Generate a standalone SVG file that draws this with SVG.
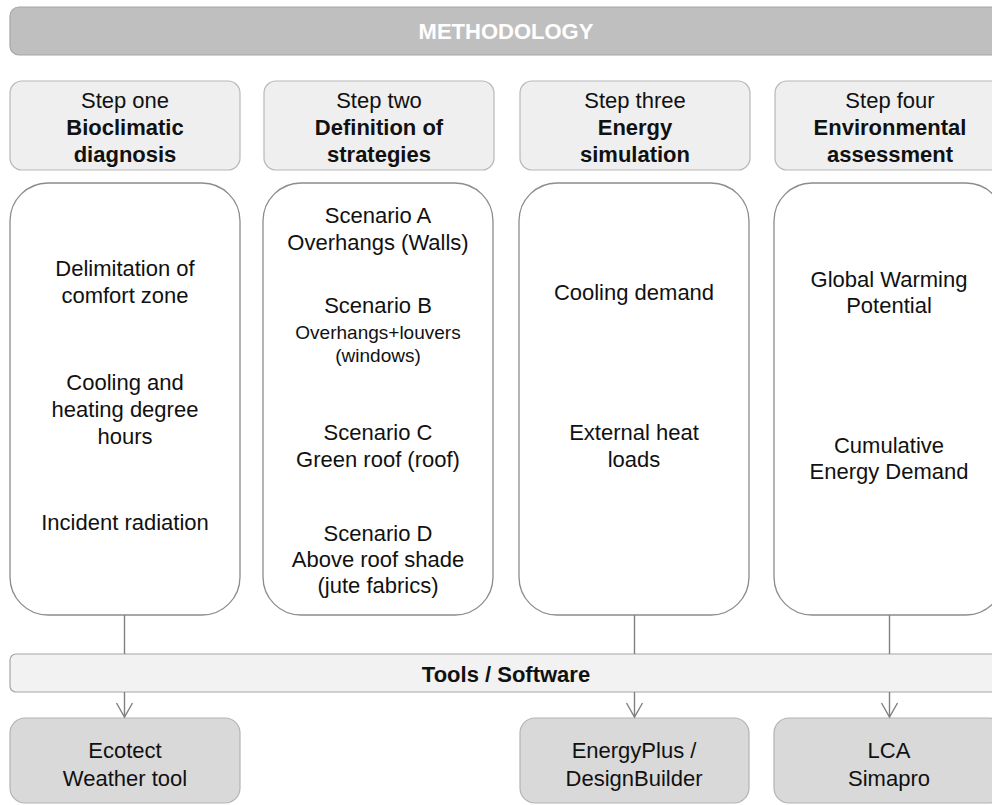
<svg xmlns="http://www.w3.org/2000/svg" width="992" height="805" viewBox="0 0 992 805">
<style>
text{font-family:"Liberation Sans",Arial,sans-serif;font-size:22px;fill:#111;text-anchor:middle}
.b{font-weight:bold}
.s{font-size:19px}
.title{fill:#bfbfbf;stroke:#a6a6a6;stroke-width:1.2}
.hdr{fill:#efefef;stroke:#b8b8b8;stroke-width:1.2}
.body{fill:#fff;stroke:#8c8c8c;stroke-width:1.3}
.bar{fill:#f2f2f2;stroke:#a6a6a6;stroke-width:1.2}
.tool{fill:#d9d9d9;stroke:#b3b3b3;stroke-width:1.2}
.ln{stroke:#808080;stroke-width:1.4;fill:none}
</style>
<defs>
<marker id="arr" viewBox="0 0 20 20" refX="18" refY="10" markerWidth="20" markerHeight="20" markerUnits="userSpaceOnUse" orient="auto">
<path d="M4,2 L18,10 L4,18" fill="none" stroke="#808080" stroke-width="1.4"/>
</marker>
</defs>

<g id="methodology">
<rect class="title" x="10" y="7" width="992" height="48" rx="9"/>
<text class="b" x="506" y="39" style="fill:#fff">METHODOLOGY</text>
</g>

<g id="step1-header">
<rect class="hdr" x="10" y="81" width="230" height="89" rx="12"/>
<text x="125" y="108">Step one</text>
<text class="b" x="125" y="135">Bioclimatic</text>
<text class="b" x="125" y="162">diagnosis</text>
</g>
<g id="step2-header">
<rect class="hdr" x="264" y="81" width="230" height="89" rx="12"/>
<text x="379" y="108">Step two</text>
<text class="b" x="379" y="135">Definition of</text>
<text class="b" x="379" y="162">strategies</text>
</g>
<g id="step3-header">
<rect class="hdr" x="520" y="81" width="230" height="89" rx="12"/>
<text x="635" y="108">Step three</text>
<text class="b" x="635" y="135">Energy</text>
<text class="b" x="635" y="162">simulation</text>
</g>
<g id="step4-header">
<rect class="hdr" x="775" y="81" width="230" height="89" rx="12"/>
<text x="890" y="108">Step four</text>
<text class="b" x="890" y="135">Environmental</text>
<text class="b" x="890" y="162">assessment</text>
</g>

<g id="step1-body">
<rect class="body" x="10" y="183" width="230" height="432" rx="38"/>
<text x="125" y="276">Delimitation of</text>
<text x="125" y="303">comfort zone</text>
<text x="125" y="390">Cooling and</text>
<text x="125" y="417">heating degree</text>
<text x="125" y="444">hours</text>
<text x="125" y="530">Incident radiation</text>
</g>
<g id="step2-body">
<rect class="body" x="263" y="183" width="230" height="432" rx="38"/>
<text x="378" y="223">Scenario A</text>
<text x="378" y="250">Overhangs (Walls)</text>
<text x="378" y="313">Scenario B</text>
<text class="s" x="378" y="339">Overhangs+louvers</text>
<text class="s" x="378" y="362">(windows)</text>
<text x="378" y="440">Scenario C</text>
<text x="378" y="467">Green roof (roof)</text>
<text x="378" y="541">Scenario D</text>
<text x="378" y="567">Above roof shade</text>
<text x="378" y="593">(jute fabrics)</text>
</g>
<g id="step3-body">
<rect class="body" x="519" y="183" width="230" height="432" rx="38"/>
<text x="634" y="300">Cooling demand</text>
<text x="634" y="440">External heat</text>
<text x="634" y="467">loads</text>
</g>
<g id="step4-body">
<rect class="body" x="774" y="183" width="230" height="432" rx="38"/>
<text x="889" y="287">Global Warming</text>
<text x="889" y="313">Potential</text>
<text x="889" y="453">Cumulative</text>
<text x="889" y="479">Energy Demand</text>
</g>

<g id="tools-bar">
<rect class="bar" x="10" y="654" width="992" height="38" rx="6"/>
<text class="b" x="506" y="682">Tools / Software</text>
</g>

<g id="ecotect">
<rect class="tool" x="10" y="718" width="230" height="85" rx="15"/>
<text x="125" y="758">Ecotect</text>
<text x="125" y="786">Weather tool</text>
</g>
<g id="energyplus">
<rect class="tool" x="520" y="718" width="229" height="85" rx="15"/>
<text x="634" y="758">EnergyPlus /</text>
<text x="634" y="786">DesignBuilder</text>
</g>
<g id="lca">
<rect class="tool" x="774" y="718" width="230" height="85" rx="15"/>
<text x="889" y="758">LCA</text>
<text x="889" y="786">Simapro</text>
</g>

<g id="connectors">
<line class="ln" x1="124.5" y1="615" x2="124.5" y2="654"/>
<line class="ln" x1="634.5" y1="615" x2="634.5" y2="654"/>
<line class="ln" x1="889.5" y1="615" x2="889.5" y2="654"/>
<line class="ln" x1="124.5" y1="692" x2="124.5" y2="717" marker-end="url(#arr)"/>
<line class="ln" x1="634.5" y1="692" x2="634.5" y2="717" marker-end="url(#arr)"/>
<line class="ln" x1="889.5" y1="692" x2="889.5" y2="717" marker-end="url(#arr)"/>
</g>
</svg>
